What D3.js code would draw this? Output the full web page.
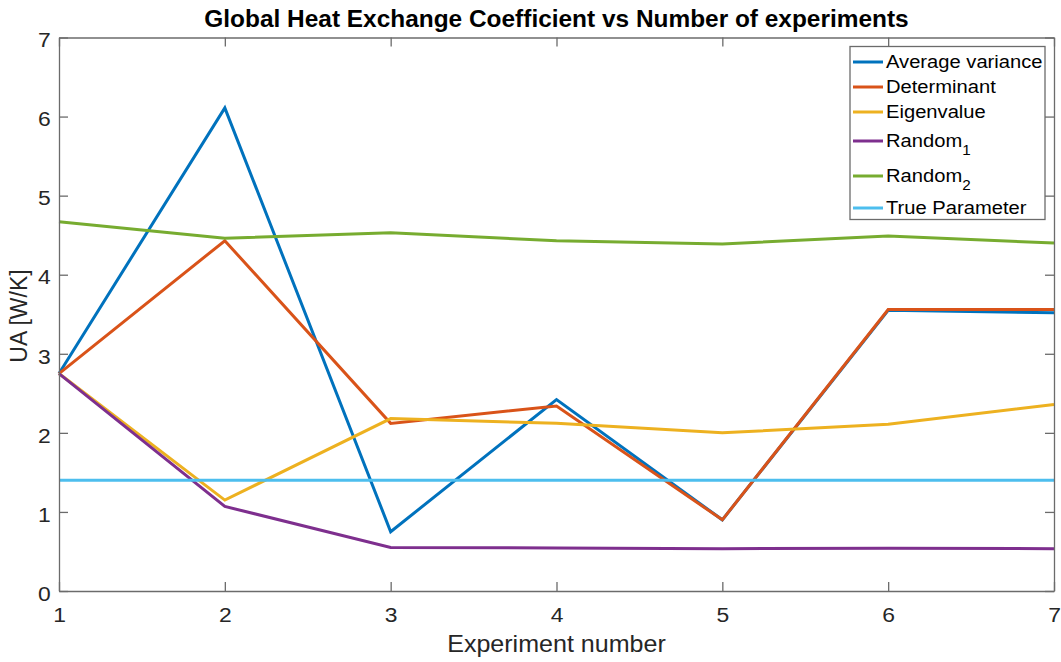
<!DOCTYPE html>
<html>
<head>
<meta charset="utf-8">
<script src="https://cdn.jsdelivr.net/npm/d3@7"></script>
<style>
  html, body { margin: 0; padding: 0; background: #fff; }
  svg { display: block; font-family: "Liberation Sans", Arial, Helvetica, sans-serif; }
</style>
</head>
<body>
<svg id="chart" width="1061" height="662"></svg>
<script>
// Experiment numbers along the x axis
const experiments = [1, 2, 3, 4, 5, 6, 7];

// Estimated UA [W/K] per design criterion
const averageVariance = [2.75, 6.11, 0.75, 2.42, 0.90, 3.55, 3.52];
const determinant     = [2.75, 4.43, 2.12, 2.34, 0.90, 3.56, 3.56];
const eigenvalue      = [2.75, 1.15, 2.18, 2.12, 2.00, 2.11, 2.36];
const random1         = [2.75, 1.07, 0.55, 0.545, 0.535, 0.54, 0.535];
const random2         = [4.67, 4.46, 4.53, 4.43, 4.39, 4.49, 4.40];
const trueParameter   = [1.40, 1.40, 1.40, 1.40, 1.40, 1.40, 1.40];

const xTicks = [1, 2, 3, 4, 5, 6, 7];
const yTicks = [0, 1, 2, 3, 4, 5, 6, 7];

const series = [
  { name: "Average variance", sub: null, values: averageVariance, color: "#0072BD" },
  { name: "Determinant",      sub: null, values: determinant,     color: "#D95319" },
  { name: "Eigenvalue",       sub: null, values: eigenvalue,      color: "#EDB120" },
  { name: "Random",           sub: "1",  values: random1,         color: "#7E2F8E" },
  { name: "Random",           sub: "2",  values: random2,         color: "#77AC30" },
  { name: "True Parameter",   sub: null, values: trueParameter,   color: "#4DBEEE" }
];

const svg = d3.select("#chart");
const m = { left: 59, right: 1054, top: 37.5, bottom: 591 };

const x = d3.scaleLinear().domain([1, 7]).range([m.left, m.right]);
const y = d3.scaleLinear().domain([0, 7]).range([m.bottom, m.top]);

const axisColor = "#6b6b6b";
const textColor = "#262626";
const tickLen = 9;
const wide = "scale(1.09,1)";   // glyphs are drawn slightly wide

// Plot lines
const line = d3.line().x((d, i) => x(experiments[i])).y(d => y(d));
const plot = svg.append("g");
series.forEach(s => {
  plot.append("path")
    .datum(s.values)
    .attr("d", line)
    .attr("fill", "none")
    .attr("stroke", s.color)
    .attr("stroke-width", 3)
    .attr("stroke-linejoin", "miter");
});

// Axis box with inward ticks on all four sides
const axes = svg.append("g");
const bottomAxis = d3.axisBottom(x).tickValues(xTicks).tickSizeInner(-tickLen).tickSizeOuter(0).tickFormat(d3.format("d"));
const topAxis = d3.axisTop(x).tickValues(xTicks).tickSizeInner(-tickLen).tickSizeOuter(0).tickFormat("");
const leftAxis = d3.axisLeft(y).tickValues(yTicks).tickSizeInner(-tickLen).tickSizeOuter(0).tickFormat(d3.format("d"));
const rightAxis = d3.axisRight(y).tickValues(yTicks).tickSizeInner(-tickLen).tickSizeOuter(0).tickFormat("");

const gB = axes.append("g").attr("transform", `translate(0,${m.bottom})`).call(bottomAxis);
const gT = axes.append("g").attr("transform", `translate(0,${m.top})`).call(topAxis);
const gL = axes.append("g").attr("transform", `translate(${m.left},0)`).call(leftAxis);
const gR = axes.append("g").attr("transform", `translate(${m.right},0)`).call(rightAxis);

[gB, gT, gL, gR].forEach(g => {
  g.select(".domain").attr("stroke", axisColor).attr("stroke-width", 1.3);
  g.selectAll(".tick line").attr("stroke", axisColor).attr("stroke-width", 1.3);
  g.selectAll(".tick text").attr("fill", textColor).attr("font-size", 21)
    .attr("font-family", "'Liberation Sans', Arial, sans-serif")
    .attr("transform", wide);
});
gB.selectAll(".tick text").attr("y", 16).attr("dy", "0.71em");
gL.selectAll(".tick text").attr("x", -7.5).attr("dy", "0.44em");

// Title and axis labels
svg.append("text")
  .attr("transform", `translate(${(m.left + m.right) / 2},27) scale(1.062,1)`)
  .attr("text-anchor", "middle")
  .attr("font-weight", "bold")
  .attr("font-size", 23)
  .attr("fill", "#000")
  .text("Global Heat Exchange Coefficient vs Number of experiments");

svg.append("text")
  .attr("transform", `translate(${(m.left + m.right) / 2},652) ${wide}`)
  .attr("text-anchor", "middle")
  .attr("font-size", 23)
  .attr("fill", textColor)
  .text("Experiment number");

svg.append("text")
  .attr("transform", `translate(27,316) rotate(-90)`)
  .attr("text-anchor", "middle")
  .attr("font-size", 23)
  .attr("fill", textColor)
  .text("UA [W/K]");

// Legend
const legend = svg.append("g");
const lx = 850, ly = 46.5, lw = 195, lh = 173;
legend.append("rect")
  .attr("x", lx).attr("y", ly).attr("width", lw).attr("height", lh)
  .attr("fill", "#fff").attr("stroke", axisColor).attr("stroke-width", 1.3);

const rowY = [62, 87, 112, 141, 176, 208];
series.forEach((s, i) => {
  const cy = rowY[i];
  legend.append("line")
    .attr("x1", lx + 3).attr("x2", lx + 33)
    .attr("y1", cy).attr("y2", cy)
    .attr("stroke", s.color).attr("stroke-width", 3);
  const t = legend.append("text")
    .attr("transform", `translate(${lx + 36},${cy}) ${wide}`)
    .attr("dy", "0.35em")
    .attr("font-size", 18.5)
    .attr("fill", "#000");
  t.append("tspan").text(s.name);
  if (s.sub) {
    t.append("tspan").attr("dy", "0.55em").attr("font-size", 14).text(s.sub);
  }
});
</script>
</body>
</html>
